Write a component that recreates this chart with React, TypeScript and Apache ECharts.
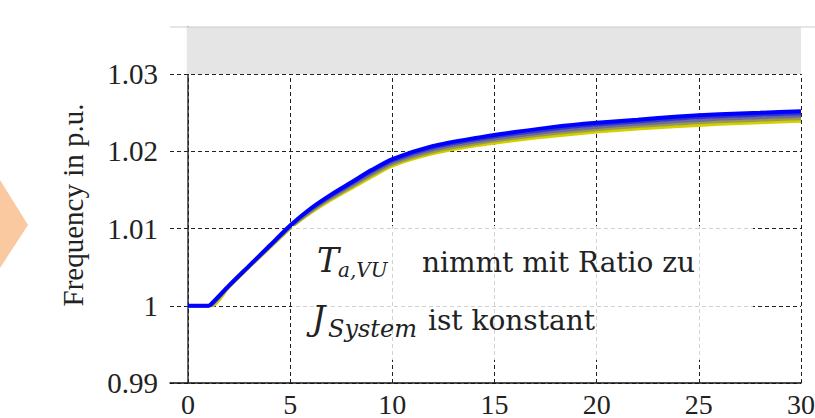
import React, { useEffect, useRef } from "react";
import * as echarts from "echarts";

// time axis (s)
const T = [0, 1, 1.2, 2, 3, 4, 5, 6, 7, 8, 9, 10, 12, 14, 16, 18, 20, 22, 24, 26, 28, 30];
// runs from yellow (lowest) to blue (highest)
const RUN_YELLOW = [1.0, 1.0, 1.0, 1.0024, 1.005, 1.0075, 1.01, 1.012, 1.0137, 1.0152, 1.0167, 1.0181, 1.0197, 1.0207, 1.0214, 1.022, 1.0225, 1.0229, 1.0232, 1.0235, 1.0237, 1.0239];
const RUN_OLIVE = [1.0, 1.0, 1.0001, 1.00245, 1.00505, 1.00758, 1.0101, 1.01215, 1.01388, 1.0154, 1.01693, 1.01833, 1.01995, 1.02095, 1.02168, 1.0223, 1.0228, 1.0232, 1.02353, 1.02383, 1.02403, 1.02423];
const RUN_GRAY = [1.0, 1.0, 1.0002, 1.0025, 1.0051, 1.00765, 1.0102, 1.0123, 1.01405, 1.0156, 1.01715, 1.01855, 1.0202, 1.0212, 1.02195, 1.0226, 1.0231, 1.0235, 1.02385, 1.02415, 1.02435, 1.02455];
const RUN_SLATE = [1.0, 1.0, 1.0003, 1.00255, 1.00515, 1.00773, 1.0103, 1.01245, 1.01423, 1.0158, 1.01738, 1.01878, 1.02045, 1.02145, 1.02223, 1.0229, 1.0234, 1.0238, 1.02418, 1.02448, 1.02468, 1.02488];
const RUN_BLUE = [1.0, 1.0, 1.0004, 1.0026, 1.0052, 1.0078, 1.0104, 1.0126, 1.0144, 1.016, 1.0176, 1.019, 1.0207, 1.0217, 1.0225, 1.0232, 1.0237, 1.0241, 1.0245, 1.0248, 1.025, 1.0252];

const RUNS = [RUN_YELLOW, RUN_OLIVE, RUN_GRAY, RUN_SLATE, RUN_BLUE];
const RUN_COLORS = ["#d4d000", "#9c9c48", "#6c6c98", "#3434d0", "#0000ff"];

const X_TICKS = [0, 5, 10, 15, 20, 25, 30];
const X_BAND = [-0.06, 30.06];
const Y_MIN = 0.99;
const Y_MAX = 1.0361;
const Y_BAND = [1.03, 1.0361];
const Y_NAME = "Frequency in p.u.";

const SERIF = "Liberation Serif";
const BOX = "DejaVu Serif";

// y position (for verticalAlign middle) from a wanted baseline
const mid = (baseline: number, size: number) => baseline - 0.346 * size;

export default function App() {
  const ref = useRef<HTMLDivElement>(null);
  useEffect(() => {
    if (!ref.current) return;
    const chart = echarts.init(ref.current, undefined, { renderer: "svg" });
    const lineSeries = RUNS.map((arr, k) => ({
      type: "line",
      data: T.map((t, i) => [t, arr[i]]),
      showSymbol: false,
      symbol: "none",
      smooth: 0.25,
      z: 5 + k,
      lineStyle: { color: RUN_COLORS[k], width: k === 4 ? 4 : 3 },
      itemStyle: { color: RUN_COLORS[k] },
    }));
    const txt = (text: string, x: number, baseline: number, size: number, italic: boolean) => ({
      type: "text",
      z: 101,
      style: {
        text,
        x,
        y: mid(baseline, size),
        align: "left",
        verticalAlign: "middle",
        font: `${italic ? "italic " : ""}${size}px '${BOX}'`,
        fill: "#222",
      },
    });
    const option: any = {
      animation: false,
      grid: { left: 170, right: 14, top: 27, bottom: 35, outerBoundsMode: "none", containLabel: false },
      xAxis: {
        type: "value",
        min: -0.88,
        max: 30,
        axisLine: { show: true, onZero: false, lineStyle: { color: "#111", width: 1.5 } },
        axisTick: { show: false },
        splitLine: { show: false },
        axisLabel: {
          customValues: X_TICKS,
          fontFamily: SERIF,
          fontSize: 28,
          lineHeight: 28,
          color: "#222",
          margin: 7,
        },
      },
      yAxis: {
        type: "value",
        min: Y_MIN,
        max: Y_MAX,
        interval: 0.01,
        name: Y_NAME,
        nameLocation: "middle",
        nameGap: 83,
        nameTextStyle: { fontFamily: SERIF, fontSize: 29, color: "#222" },
        axisLine: { show: true, lineStyle: { color: "#333", width: 1.5 } },
        axisTick: { show: false },
        splitLine: { show: true, showMaxLine: false, lineStyle: { color: "#222", type: [4, 3], width: 1 } },
        axisLabel: {
          fontFamily: SERIF,
          fontSize: 29,
          color: "#222",
          margin: 12,
          showMaxLabel: false,
          formatter: (v: number) => String(parseFloat(v.toFixed(2))),
        },
      },
      series: [
        {
          type: "line",
          data: [],
          z: 1,
          markLine: {
            silent: true,
            symbol: "none",
            label: { show: false },
            lineStyle: { color: "#222", type: [4, 3], width: 1 },
            data: X_TICKS.map((x) => [{ coord: [x, Y_MIN] }, { coord: [x, Y_BAND[0]] }]),
          },
          markArea: {
            silent: true,
            itemStyle: { color: "#e5e5e5" },
            data: [[{ coord: [X_BAND[0], Y_BAND[0]] }, { coord: [X_BAND[1], Y_BAND[1]] }]],
          },
        },
        ...lineSeries,
      ],
      graphic: [
        { type: "polygon", shape: { points: [[0, 180], [28, 225], [0, 268]] }, style: { fill: "#fac9a0" } },
        { type: "line", z: 50, shape: { x1: 170, y1: 27, x2: 815, y2: 27 }, style: { stroke: "#cccccc", lineWidth: 1 } },
        { type: "rect", z: 100, shape: { x: 292, y: 226, width: 461, height: 134 }, style: { fill: "rgba(255,255,255,0.8)" } },
        txt("T", 317, 272, 33, true),
        txt("a,VU", 338, 277, 20, true),
        txt("nimmt mit Ratio zu", 422, 272, 28, false),
        txt("J", 312, 330, 33, true),
        txt("System", 328, 337, 24, true),
        txt("ist konstant", 428, 330, 28, false),
      ],
    };
    chart.setOption(option);
    return () => chart.dispose();
  }, []);
  return (
    <div
      ref={ref}
      style={{ position: "fixed", left: 0, top: 0, width: 815, height: 418, background: "#fff" }}
    />
  );
}
